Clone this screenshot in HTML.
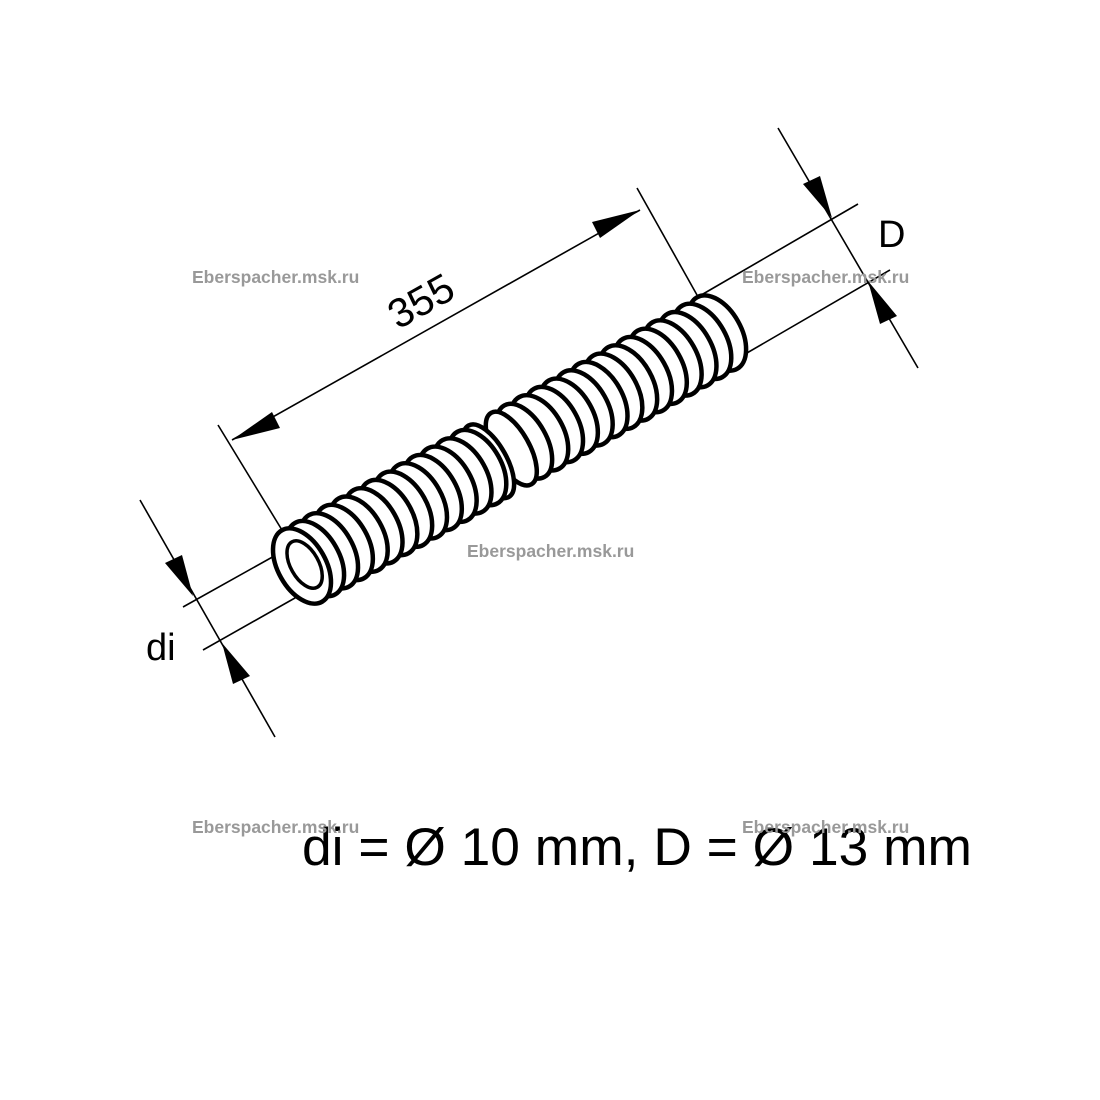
<!DOCTYPE html>
<html><head><style>
body{margin:0;background:#fff}
svg{display:block}
.w{font-family:"Liberation Sans",sans-serif;font-weight:bold;font-size:17.5px;fill:#999}
</style></head><body>
<svg width="1100" height="1100" viewBox="0 0 1100 1100" xmlns="http://www.w3.org/2000/svg">
<g stroke="#000" stroke-width="1.6" fill="none">
<line x1="232" y1="440" x2="640" y2="210"/>
<line x1="218" y1="425" x2="285" y2="535"/>
<line x1="637" y1="188" x2="697" y2="295"/>
<line x1="703" y1="294" x2="858" y2="204"/>
<line x1="740" y1="357" x2="890" y2="270"/>
<line x1="778" y1="128" x2="918" y2="368"/>
<line x1="140" y1="500" x2="275" y2="737"/>
<line x1="183" y1="607" x2="285" y2="550"/>
<line x1="203" y1="650" x2="302" y2="594"/>
</g>
<g fill="#000">
<polygon points="232,440 272,412 280,428"/>
<polygon points="640,210 600,238 592,222"/>
<polygon points="832,218 803,184 820,176"/>
<polygon points="868,281 897,316 880,324"/>
<polygon points="193,596 165,563 182,555"/>
<polygon points="222,643 250,676 233,684"/>
</g>
<g transform="translate(302,566) rotate(-29.3)" stroke="#000" stroke-width="4.5" fill="#fff">
<ellipse cx="476" cy="0" rx="24" ry="41"/>
<ellipse cx="459" cy="0" rx="24" ry="41"/>
<ellipse cx="442" cy="0" rx="24" ry="41"/>
<ellipse cx="425" cy="0" rx="24" ry="41"/>
<ellipse cx="408" cy="0" rx="24" ry="41"/>
<ellipse cx="391" cy="0" rx="24" ry="41"/>
<ellipse cx="374" cy="0" rx="24" ry="41"/>
<ellipse cx="357" cy="0" rx="24" ry="41"/>
<ellipse cx="340" cy="0" rx="24" ry="41"/>
<ellipse cx="323" cy="0" rx="24" ry="41"/>
<ellipse cx="306" cy="0" rx="24" ry="41"/>
<ellipse cx="289" cy="0" rx="24" ry="41"/>
<ellipse cx="272" cy="0" rx="24" ry="41"/>
<ellipse cx="255" cy="0" rx="22" ry="41"/>
<ellipse cx="240" cy="0" rx="18" ry="41"/>
<ellipse cx="214" cy="0" rx="18" ry="41"/>
<ellipse cx="201" cy="0" rx="24" ry="41"/>
<ellipse cx="184" cy="0" rx="24" ry="41"/>
<ellipse cx="167" cy="0" rx="24" ry="41"/>
<ellipse cx="150" cy="0" rx="24" ry="41"/>
<ellipse cx="133" cy="0" rx="24" ry="41"/>
<ellipse cx="116" cy="0" rx="24" ry="41"/>
<ellipse cx="99" cy="0" rx="24" ry="41"/>
<ellipse cx="82" cy="0" rx="24" ry="41"/>
<ellipse cx="65" cy="0" rx="24" ry="41"/>
<ellipse cx="48" cy="0" rx="24" ry="41"/>
<ellipse cx="31" cy="0" rx="24" ry="41"/>
<ellipse cx="15" cy="0" rx="24" ry="41"/>
<ellipse cx="0" cy="0" rx="24" ry="41"/>
<ellipse cx="3" cy="0" rx="14" ry="26" stroke-width="3.5"/>
</g>
<text x="0" y="0" transform="translate(398,330) rotate(-29.3)" font-family="Liberation Sans,sans-serif" font-size="41">355</text>
<text x="878" y="247" font-family="Liberation Sans,sans-serif" font-size="38">D</text>
<text x="146" y="660" font-family="Liberation Sans,sans-serif" font-size="38">di</text>
<text x="302" y="865" font-family="Liberation Sans,sans-serif" font-size="53" textLength="670" lengthAdjust="spacingAndGlyphs">di = Ø 10 mm, D = Ø 13 mm</text>
<text class="w" x="192" y="283">Eberspacher.msk.ru</text>
<text class="w" x="742" y="283">Eberspacher.msk.ru</text>
<text class="w" x="467" y="557">Eberspacher.msk.ru</text>
<text class="w" x="192" y="833">Eberspacher.msk.ru</text>
<text class="w" x="742" y="833">Eberspacher.msk.ru</text>
</svg>
</body></html>
